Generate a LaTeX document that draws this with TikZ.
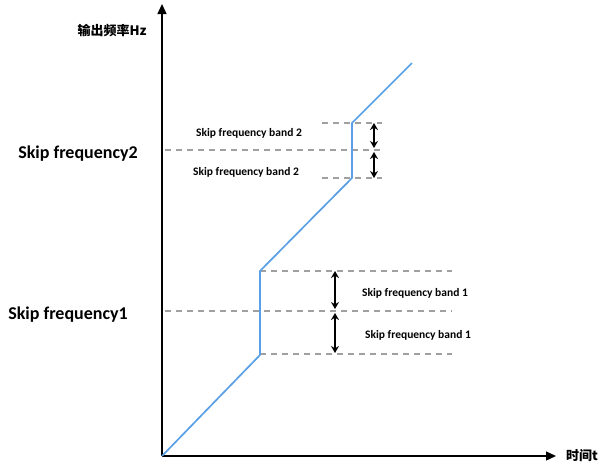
\documentclass[tikz,border=0pt]{standalone}
\usepackage{fontspec}
\setmainfont{Carlito}
\newfontfamily\cjk{Noto Sans CJK SC}
\usetikzlibrary{arrows.meta}
\begin{document}
\begin{tikzpicture}[x=1pt,y=-1pt,
  axis/.style={line width=1.4pt,-{Triangle[length=10pt,width=9pt]}},
  curve/.style={draw={rgb,255:red,90;green,160;blue,230},line width=1.7pt},
  dashline/.style={draw={rgb,255:red,160;green,160;blue,160},line width=1.5pt,dash pattern=on 6pt off 5pt},
  darr/.style={line width=1.1pt,{Stealth[length=7pt,width=8pt]}-{Stealth[length=7pt,width=8pt]}},
  small/.style={font=\bfseries\fontsize{11.5}{13}\selectfont},
  big/.style={font=\bfseries\fontsize{18}{21}\selectfont},
  lab/.style={font=\cjk\bfseries\fontsize{13}{15}\selectfont}]
\useasboundingbox[fill=white] (0,0) rectangle (598,464);
% axes
\coordinate (O) at (162,456);
\coordinate (Ytop) at (162,4);
\coordinate (Xend) at (556,456);
\draw[axis] (O) -- (Ytop);
\draw[axis] (O) -- (Xend);
\node[lab] (ylab) at (112,31) {输出频率Hz};
\node[lab] (xlab) at (582,456) {时间t};
% dashed lines
\coordinate (b1t0) at (260,271); \coordinate (b1t1) at (452,271);
\coordinate (b1m0) at (165,311); \coordinate (b1m1) at (452,311);
\coordinate (b1b0) at (260,354); \coordinate (b1b1) at (452,354);
\coordinate (b2t0) at (322,123); \coordinate (b2t1) at (382,123);
\coordinate (b2m0) at (165,150); \coordinate (b2m1) at (382,150);
\coordinate (b2b0) at (322,178); \coordinate (b2b1) at (382,178);
\draw[dashline] (b1t0) -- (b1t1);
\draw[dashline] (b1m0) -- (b1m1);
\draw[dashline] (b1b0) -- (b1b1);
\draw[dashline] (b2t0) -- (b2t1);
\draw[dashline] (b2m0) -- (b2m1);
\draw[dashline] (b2b0) -- (b2b1);
% curve
\coordinate (p1) at (260,355);
\coordinate (p2) at (260,271);
\coordinate (p3) at (352,178);
\coordinate (p4) at (352,123);
\coordinate (p5) at (412,63);
\draw[curve] (O) -- (p1) -- (p2) -- (p3) -- (p4) -- (p5);
% arrows
\coordinate (a1) at (335,271); \coordinate (a2) at (335,309);
\coordinate (a3) at (335,313); \coordinate (a4) at (335,353);
\coordinate (c1) at (374,123); \coordinate (c2) at (374,148);
\coordinate (c3) at (374,152); \coordinate (c4) at (374,178);
\draw[darr] (a1) -- (a2);
\draw[darr] (a3) -- (a4);
\draw[darr] (c1) -- (c2);
\draw[darr] (c3) -- (c4);
% labels
\node[small] (t1) at (415,293) {Skip frequency band 1};
\node[small] (t2) at (418,335) {Skip frequency band 1};
\node[small] (t3) at (249,133) {Skip frequency band 2};
\node[small] (t4) at (246,172) {Skip frequency band 2};
\node[big] (s2) at (78,154) {Skip frequency2};
\node[big] (s1) at (68,315) {Skip frequency1};
\end{tikzpicture}
\end{document}
